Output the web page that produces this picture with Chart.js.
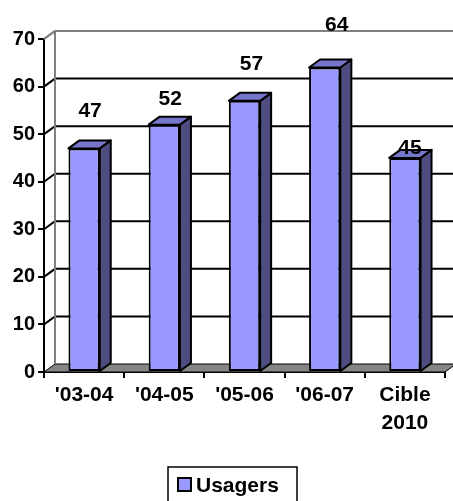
<!DOCTYPE html>
<html>
<head>
<meta charset="utf-8">
<script src="https://cdn.jsdelivr.net/npm/chart.js@4/dist/chart.umd.min.js"></script>
<style>
  html, body { margin: 0; padding: 0; background: #fff; }
  canvas { display: block; }
</style>
</head>
<body>
<canvas id="c" width="453" height="501"></canvas>
<script>
// Usagers par année, avec la cible 2010
const categories = ["'03-04", "'04-05", "'05-06", "'06-07", ['Cible', '2010']];
const usagers = [47, 52, 57, 64, 45];
const yTicks = [0, 10, 20, 30, 40, 50, 60, 70];
const seriesName = 'Usagers';

const FONT = '"Liberation Sans", Arial, sans-serif';
const DEPTH = { dx: 11, dy: -8 };
const FRONT = '#9999FF', TOP = '#7676CC', SIDE = '#4D4D80';

// Pseudo-3D walls, floor, gridlines and bar faces
const depthPlugin = {
  id: 'depth3d',
  beforeDatasetsDraw(chart) {
    const { ctx, chartArea: a, scales: { y } } = chart;
    const { dx, dy } = DEPTH;
    ctx.save();
    // floor
    ctx.beginPath();
    ctx.moveTo(a.left, a.bottom);
    ctx.lineTo(a.right, a.bottom);
    ctx.lineTo(a.right + dx, a.bottom + dy);
    ctx.lineTo(a.left + dx, a.bottom + dy);
    ctx.closePath();
    ctx.fillStyle = '#858585';
    ctx.fill();
    ctx.strokeStyle = '#000';
    ctx.lineWidth = 1;
    ctx.stroke();
    // gridlines on side and back walls
    yTicks.forEach(v => {
      if (v === 0) return;
      const py = y.getPixelForValue(v);
      ctx.beginPath();
      ctx.moveTo(a.left, py);
      ctx.lineTo(a.left + dx, py + dy);
      ctx.lineTo(a.right + dx + 20, py + dy);
      ctx.strokeStyle = v === y.max ? '#808080' : '#000';
      ctx.lineWidth = 2;
      ctx.stroke();
    });
    // back wall left edge
    ctx.beginPath();
    ctx.moveTo(a.left + dx, a.top + dy);
    ctx.lineTo(a.left + dx, a.bottom + dy);
    ctx.strokeStyle = '#808080';
    ctx.lineWidth = 2;
    ctx.stroke();
    // side and top faces of bars
    const meta = chart.getDatasetMeta(0);
    meta.data.forEach(bar => {
      const l = bar.x - bar.width / 2, r = bar.x + bar.width / 2;
      const t = bar.y, b = bar.base;
      ctx.lineWidth = 2;
      ctx.strokeStyle = '#000';
      ctx.lineJoin = 'round';
      ctx.beginPath();
      ctx.moveTo(r, t);
      ctx.lineTo(r + dx, t + dy);
      ctx.lineTo(r + dx, b + dy);
      ctx.lineTo(r, b);
      ctx.closePath();
      ctx.fillStyle = SIDE;
      ctx.fill();
      ctx.stroke();
      ctx.beginPath();
      ctx.moveTo(l, t);
      ctx.lineTo(l + dx, t + dy);
      ctx.lineTo(r + dx, t + dy);
      ctx.lineTo(r, t);
      ctx.closePath();
      ctx.fillStyle = TOP;
      ctx.fill();
      ctx.stroke();
    });
    ctx.restore();
  },
  afterDraw(chart, args, opts) {
    const { ctx, chartArea: a } = chart;
    const { dx, dy } = DEPTH;
    ctx.save();
    // top-left corner edge of the wall
    ctx.beginPath();
    ctx.moveTo(a.left, a.top);
    ctx.lineTo(a.left + dx, a.top + dy);
    ctx.strokeStyle = '#808080';
    ctx.lineWidth = 2;
    ctx.stroke();
    // value labels
    const meta = chart.getDatasetMeta(0);
    ctx.fillStyle = '#000';
    ctx.font = 'bold 21px ' + FONT;
    ctx.textAlign = 'center';
    ctx.textBaseline = 'middle';
    meta.data.forEach((bar, i) => {
      const n = opts.nudge[i];
      ctx.fillText(String(usagers[i]), bar.x + n[0], bar.y - n[1]);
    });
    // legend
    const lx = 168, ly = 467;
    ctx.strokeStyle = '#000';
    ctx.lineWidth = 1.5;
    ctx.strokeRect(lx, ly, 129, 40);
    ctx.fillStyle = FRONT;
    ctx.lineWidth = 2;
    ctx.fillRect(lx + 10, ly + 11, 13, 13);
    ctx.strokeRect(lx + 10, ly + 11, 13, 13);
    ctx.fillStyle = '#000';
    ctx.font = 'bold 21px ' + FONT;
    ctx.textAlign = 'left';
    ctx.textBaseline = 'alphabetic';
    ctx.fillText(seriesName, lx + 28, ly + 25);
    ctx.restore();
  }
};

new Chart(document.getElementById('c'), {
  type: 'bar',
  data: {
    labels: categories,
    datasets: [{
      label: seriesName,
      data: usagers,
      backgroundColor: FRONT,
      borderColor: '#000',
      borderWidth: 2,
      borderSkipped: false,
      categoryPercentage: 1,
      barPercentage: 0.39
    }]
  },
  options: {
    responsive: false,
    animation: false,
    layout: { padding: { top: 39, right: 8, left: 0, bottom: 0 } },
    plugins: {
      legend: { display: false },
      tooltip: { enabled: false },
      depth3d: { nudge: [[6, 37], [6, 25], [7, 37], [12, 42], [5, 10]] }
    },
    scales: {
      x: {
        afterFit: s => { s.height = 129; },
        grid: { drawOnChartArea: false, drawTicks: true, tickLength: 6, color: '#000', lineWidth: 2, offset: true },
        border: { display: true, color: '#000', width: 2 },
        ticks: { color: '#000', padding: 4, font: { family: FONT, size: 21, weight: 'bold', lineHeight: 1.3 }, maxRotation: 0 }
      },
      y: {
        min: 0, max: 70,
        afterFit: s => { s.width = 44; },
        afterBuildTicks: s => { s.ticks = yTicks.map(v => ({ value: v })); },
        grid: { drawOnChartArea: false, drawTicks: true, tickLength: 6, color: '#000', lineWidth: 2 },
        border: { display: true, color: '#000', width: 2 },
        ticks: { color: '#000', padding: 3, font: { family: FONT, size: 20, weight: 'bold' } }
      }
    }
  },
  plugins: [depthPlugin]
});
</script>
</body>
</html>
